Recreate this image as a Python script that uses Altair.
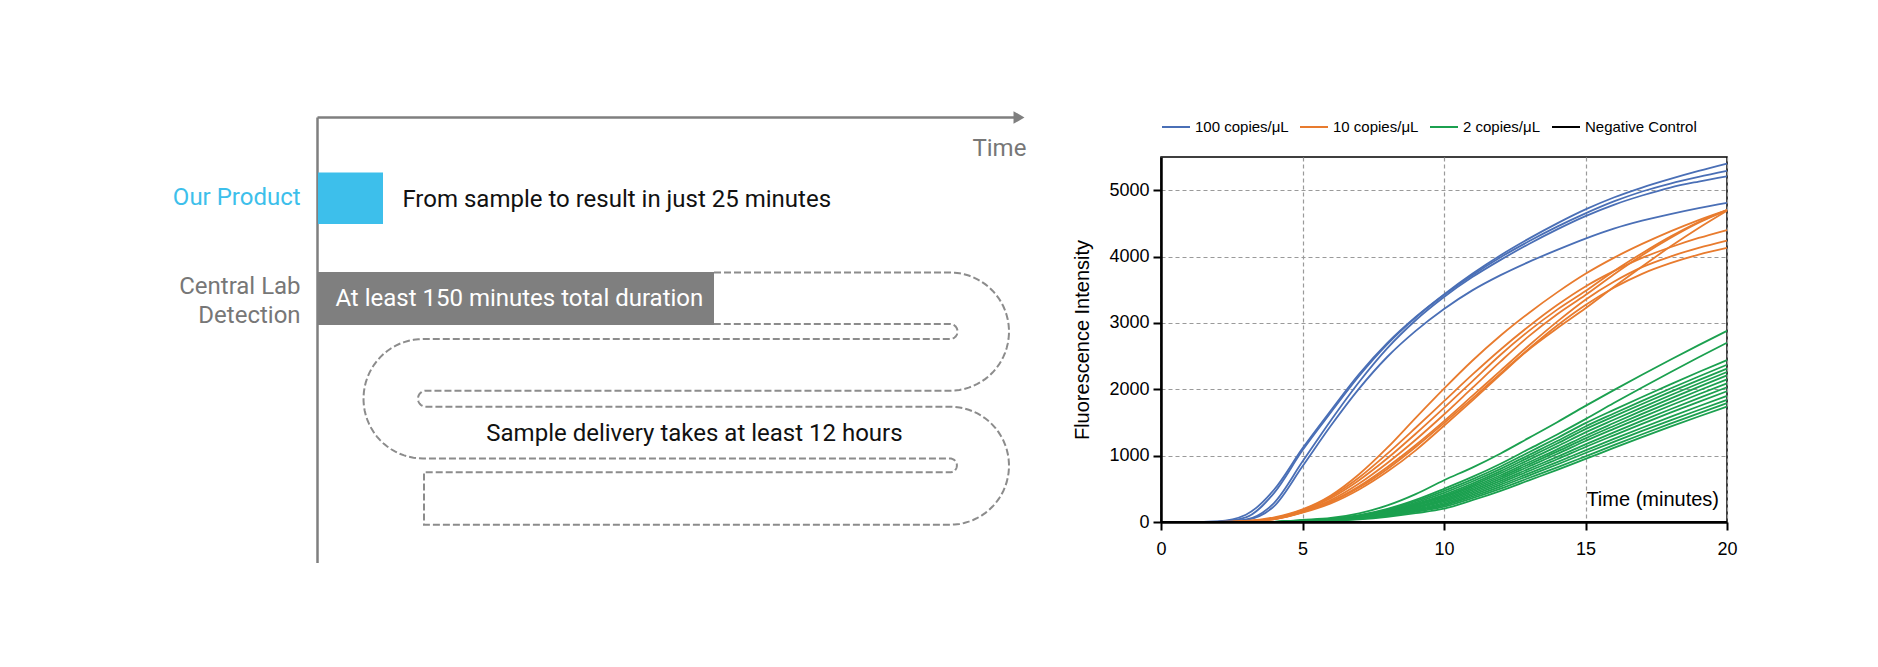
import altair as alt
import pandas as pd
import numpy as np

# ---------------- right panel data (minutes 0..20) ----------------
TIME = list(range(21))

BLUE = [
    [0, 0, 10, 110, 490, 1110, 1680, 2230, 2700, 3090, 3430, 3740, 4020, 4270, 4500, 4710, 4890, 5040, 5170, 5290, 5400],
    [0, 0, 5, 70, 440, 1080, 1650, 2200, 2680, 3080, 3420, 3720, 3990, 4230, 4450, 4650, 4830, 4980, 5100, 5200, 5290],
    [0, 0, 0, 35, 290, 910, 1530, 2110, 2620, 3040, 3390, 3690, 3950, 4190, 4410, 4610, 4780, 4920, 5040, 5130, 5210],
    [0, 0, 0, 30, 240, 840, 1450, 2010, 2490, 2880, 3210, 3490, 3720, 3920, 4100, 4270, 4420, 4540, 4640, 4730, 4810],
]
ORANGE = [
    [0, 0, 0, 15, 70, 190, 400, 720, 1120, 1570, 2010, 2430, 2810, 3150, 3460, 3740, 3980, 4190, 4380, 4550, 4700],
    [0, 0, 0, 10, 55, 170, 360, 630, 960, 1330, 1720, 2120, 2520, 2880, 3200, 3480, 3780, 4050, 4300, 4520, 4700],
    [0, 0, 0, 10, 50, 160, 330, 580, 890, 1240, 1620, 2020, 2420, 2800, 3130, 3420, 3730, 4020, 4280, 4510, 4700],
    [0, 0, 0, 12, 60, 180, 380, 670, 1030, 1420, 1820, 2220, 2600, 2950, 3270, 3550, 3780, 3980, 4140, 4280, 4400],
    [0, 0, 0, 8, 45, 150, 310, 540, 830, 1160, 1520, 1900, 2280, 2660, 3020, 3350, 3620, 3840, 4000, 4130, 4240],
    [0, 0, 0, 8, 45, 150, 300, 520, 800, 1130, 1490, 1860, 2240, 2610, 2960, 3270, 3530, 3740, 3900, 4030, 4130],
    [0, 0, 0, 5, 40, 140, 280, 490, 760, 1080, 1450, 1830, 2220, 2600, 2920, 3220, 3540, 3850, 4150, 4430, 4690],
]
GREEN = [
    [0, 0, 0, 0, 3, 30, 60, 130, 250, 420, 630, 820, 1033, 1268, 1504, 1750, 1987, 2219, 2445, 2665, 2880],
    [0, 0, 0, 0, 2, 24, 48, 103, 198, 333, 500, 679, 878, 1099, 1319, 1550, 1792, 2027, 2257, 2482, 2700],
    [0, 0, 0, 0, 2, 22, 45, 97, 186, 313, 470, 643, 837, 1051, 1266, 1490, 1690, 1884, 2074, 2260, 2440],
    [0, 0, 0, 0, 2, 21, 42, 91, 175, 293, 440, 610, 800, 1010, 1220, 1440, 1635, 1826, 2012, 2193, 2370],
    [0, 0, 0, 0, 2, 20, 39, 85, 163, 273, 410, 578, 766, 974, 1182, 1400, 1591, 1778, 1960, 2137, 2310],
    [0, 0, 0, 0, 2, 19, 37, 80, 155, 260, 390, 553, 736, 937, 1139, 1350, 1541, 1728, 1910, 2087, 2260],
    [0, 0, 0, 0, 2, 18, 35, 76, 147, 247, 370, 528, 705, 900, 1095, 1300, 1491, 1678, 1860, 2037, 2210],
    [0, 0, 0, 0, 1, 17, 33, 72, 139, 233, 350, 505, 678, 869, 1060, 1260, 1447, 1629, 1807, 1981, 2150],
    [0, 0, 0, 0, 1, 16, 31, 68, 131, 220, 330, 481, 650, 837, 1024, 1220, 1403, 1581, 1755, 1925, 2090],
    [0, 0, 0, 0, 1, 15, 30, 64, 123, 207, 310, 456, 620, 800, 981, 1170, 1351, 1527, 1699, 1867, 2030],
    [0, 0, 0, 0, 1, 14, 28, 60, 115, 193, 290, 433, 592, 769, 945, 1130, 1306, 1479, 1647, 1810, 1970],
    [0, 0, 0, 0, 1, 13, 26, 56, 107, 180, 270, 408, 562, 732, 902, 1080, 1252, 1420, 1584, 1744, 1900],
    [0, 0, 0, 0, 1, 12, 24, 52, 99, 167, 250, 384, 534, 700, 866, 1040, 1208, 1372, 1532, 1688, 1840],
    [0, 0, 0, 0, 1, 11, 22, 47, 91, 153, 230, 359, 504, 663, 823, 990, 1158, 1322, 1482, 1638, 1790],
    [0, 0, 0, 0, 1, 10, 19, 41, 79, 133, 200, 328, 470, 628, 785, 950, 1116, 1278, 1436, 1590, 1740],
]
NEGATIVE = [[0] * 21]

SERIES = ["100 copies/μL", "10 copies/μL", "2 copies/μL", "Negative Control"]
COLORS = ["#4a6fb6", "#e87b2e", "#1ba04f", "#000000"]
X_TICKS = [0, 5, 10, 15, 20]
Y_TICKS = [0, 1000, 2000, 3000, 4000, 5000]

# ---------------- left panel (diagram, in page pixels) ----------------
AXIS_X = [317.5, 317.5]
AXIS_Y = [117.5, 117.5]
AXIS_X2 = [317.5, 1016]
AXIS_Y2 = [563, 117.5]

BAR_X = [318, 318]
BAR_X2 = [383, 714]
BAR_Y = [172.5, 272]
BAR_Y2 = [224, 325]
BAR_COLORS = ["#3dbfeb", "#7f7f7f"]

TXT_R = ["Our Product", "Central Lab", "Detection", "Time"]
TXT_R_X = [300.6, 300.6, 300.6, 1026.4]
TXT_R_Y = [197.6, 287.4, 316.2, 148.5]
TXT_R_C = ["#3dbfeb", "#777777", "#777777", "#777777"]

TXT_L = ["From sample to result in just 25 minutes",
         "At least 150 minutes total duration",
         "Sample delivery takes at least 12 hours"]
TXT_L_X = [402.4, 335.4, 486.3]
TXT_L_Y = [200, 299.4, 433.6]
TXT_L_C = ["#111111", "#ffffff", "#111111"]

# serpentine outline: straight runs joined by half-turns (cx, cy, rx, ry, a0, a1)
PATH_STEPS = [
    ("pt", 714, 272.5), ("pt", 950, 272.5),
    ("arc", 950, 331.6, 59, 59.1, -90, 90),
    ("pt", 426, 390.7),
    ("arc", 426, 398.7, 8, 8, 270, 90),
    ("pt", 950, 406.7),
    ("arc", 950, 465.7, 59, 59, -90, 90),
    ("pt", 424, 524.7), ("pt", 424, 472.3), ("pt", 950, 472.3),
    ("arc", 950, 465.4, 6.9, 6.9, 90, -90),
    ("pt", 423, 458.5),
    ("arc", 423, 398.75, 59.5, 59.75, 90, 270),
    ("pt", 950, 339),
    ("arc", 950, 331.5, 7.5, 7.5, 90, -90),
    ("pt", 714, 324),
]

px_list, py_list = [], []
for s in PATH_STEPS:
    if s[0] == "pt":
        px_list.append(s[1]); py_list.append(s[2])
    else:
        _, cx, cy, rx, ry, a0, a1 = s
        for a in np.linspace(a0, a1, 40):
            r = np.deg2rad(a)
            px_list.append(cx + rx * np.cos(r)); py_list.append(cy + ry * np.sin(r))
path_df = pd.DataFrame({"px": px_list, "py": py_list, "i": range(len(px_list))})

# ---------------- build curve table ----------------
rows = []
for name, curves in zip(SERIES, [BLUE, ORANGE, GREEN, NEGATIVE]):
    for k, c in enumerate(curves):
        for t, v in zip(TIME, c):
            rows.append({"t": t, "v": v, "series": name, "curve": f"{name}-{k}"})
df = pd.DataFrame(rows)

LEFT, TOP, W, H = 1161, 157, 566, 365
FONT_R = "Liberation Sans, Arial, sans-serif"
FONT_L = "Roboto, sans-serif"

xs = alt.Scale(domain=[0, 20], nice=False, zero=False)
ys = alt.Scale(domain=[0, 5500], nice=False, zero=False)

lines = alt.Chart(df).mark_line(strokeWidth=1.8, interpolate="monotone").encode(
    x=alt.X("t:Q", scale=xs, axis=alt.Axis(
        values=X_TICKS, title=None, grid=True, gridDash=[4, 3], gridColor="#9a9a9a",
        gridWidth=1.2, domainColor="black", domainWidth=2.5, tickColor="black",
        tickWidth=2, tickSize=8, labelFontSize=18, labelFont=FONT_R, labelColor="black",
        labelPadding=10, labelFlush=False, format="d")),
    y=alt.Y("v:Q", scale=ys, axis=alt.Axis(
        values=Y_TICKS, title="Fluorescence Intensity", grid=True, gridDash=[4, 3],
        gridColor="#9a9a9a", gridWidth=1.2, domainColor="black", domainWidth=2.5,
        tickColor="black", tickWidth=2, tickSize=8, labelFontSize=18, labelFont=FONT_R,
        labelColor="black", labelPadding=4, labelFlush=False, format="d", titleFont=FONT_R,
        titleFontSize=20, titleFontWeight="normal", titleColor="black", titlePadding=16)),
    color=alt.Color("series:N", scale=alt.Scale(domain=SERIES, range=COLORS),
                    legend=alt.Legend(title=None, orient="none", legendX=0, legendY=-45,
                                      direction="horizontal", columns=4, symbolType="stroke",
                                      symbolSize=784, symbolStrokeWidth=2, labelFontSize=15,
                                      labelFont=FONT_R, labelColor="black", labelOffset=4,
                                      columnPadding=7, padding=0)),
    detail="curve:N",
    order="t:Q",
)

plot = alt.layer(lines)

pxs = alt.Scale(domain=[LEFT, LEFT + W], nice=False, zero=False)
pys = alt.Scale(domain=[TOP, TOP + H], nice=False, zero=False, reverse=True)

def PX(f):
    return alt.X(f, type="quantitative", scale=pxs, axis=None)

def PY(f):
    return alt.Y(f, type="quantitative", scale=pys, axis=None)

axes_df = pd.DataFrame({"px": AXIS_X, "py": AXIS_Y, "px2": AXIS_X2, "py2": AXIS_Y2})
axis_rules = alt.Chart(axes_df).mark_rule(color="#7f7f7f", strokeWidth=2.5).encode(
    x=PX("px"), y=PY("py"), x2="px2", y2="py2")

arrow = alt.Chart(pd.DataFrame({"px": [1019], "py": [117.5]})).mark_point(
    shape="triangle-right", filled=True, size=160, color="#7f7f7f", opacity=1).encode(
    x=PX("px"), y=PY("py"))

bars_df = pd.DataFrame({"px": BAR_X, "px2": BAR_X2, "py": BAR_Y, "py2": BAR_Y2, "c": BAR_COLORS})
bars = alt.Chart(bars_df).mark_rect().encode(
    x=PX("px"), x2="px2", y=PY("py"), y2="py2", color=alt.Color("c:N", scale=None))

snake = alt.Chart(path_df).mark_line(strokeDash=[7, 3], strokeWidth=2, color="#8c8c8c").encode(
    x=PX("px"), y=PY("py"), order="i:Q")

tr_df = pd.DataFrame({"px": TXT_R_X, "py": TXT_R_Y, "txt": TXT_R, "c": TXT_R_C})
texts_r = alt.Chart(tr_df).mark_text(align="right", baseline="middle", font=FONT_L, fontSize=24).encode(
    x=PX("px"), y=PY("py"), text="txt:N", color=alt.Color("c:N", scale=None))

tl_df = pd.DataFrame({"px": TXT_L_X, "py": TXT_L_Y, "txt": TXT_L, "c": TXT_L_C})
texts_l = alt.Chart(tl_df).mark_text(align="left", baseline="middle", font=FONT_L, fontSize=24).encode(
    x=PX("px"), y=PY("py"), text="txt:N", color=alt.Color("c:N", scale=None))

tm_df = pd.DataFrame({"px": [1719], "py": [500], "txt": ["Time (minutes)"]})
time_lbl = alt.Chart(tm_df).mark_text(align="right", baseline="middle", font=FONT_R,
                                      fontSize=20, color="black").encode(
    x=PX("px"), y=PY("py"), text="txt:N")

diagram = alt.layer(axis_rules, arrow, bars, snake, texts_r, texts_l, time_lbl)

chart = alt.layer(plot, diagram).resolve_scale(
    x="independent", y="independent", color="independent"
).properties(
    width=W, height=H,
    autosize=alt.AutoSizeParams(type="none"),
    padding={"left": LEFT, "top": TOP, "right": 1878 - LEFT - W, "bottom": 667 - TOP - H},
    background="white",
).configure_view(stroke="black", strokeWidth=1.5)

chart.save("out.html", embed_options={"renderer": "svg", "actions": False})
